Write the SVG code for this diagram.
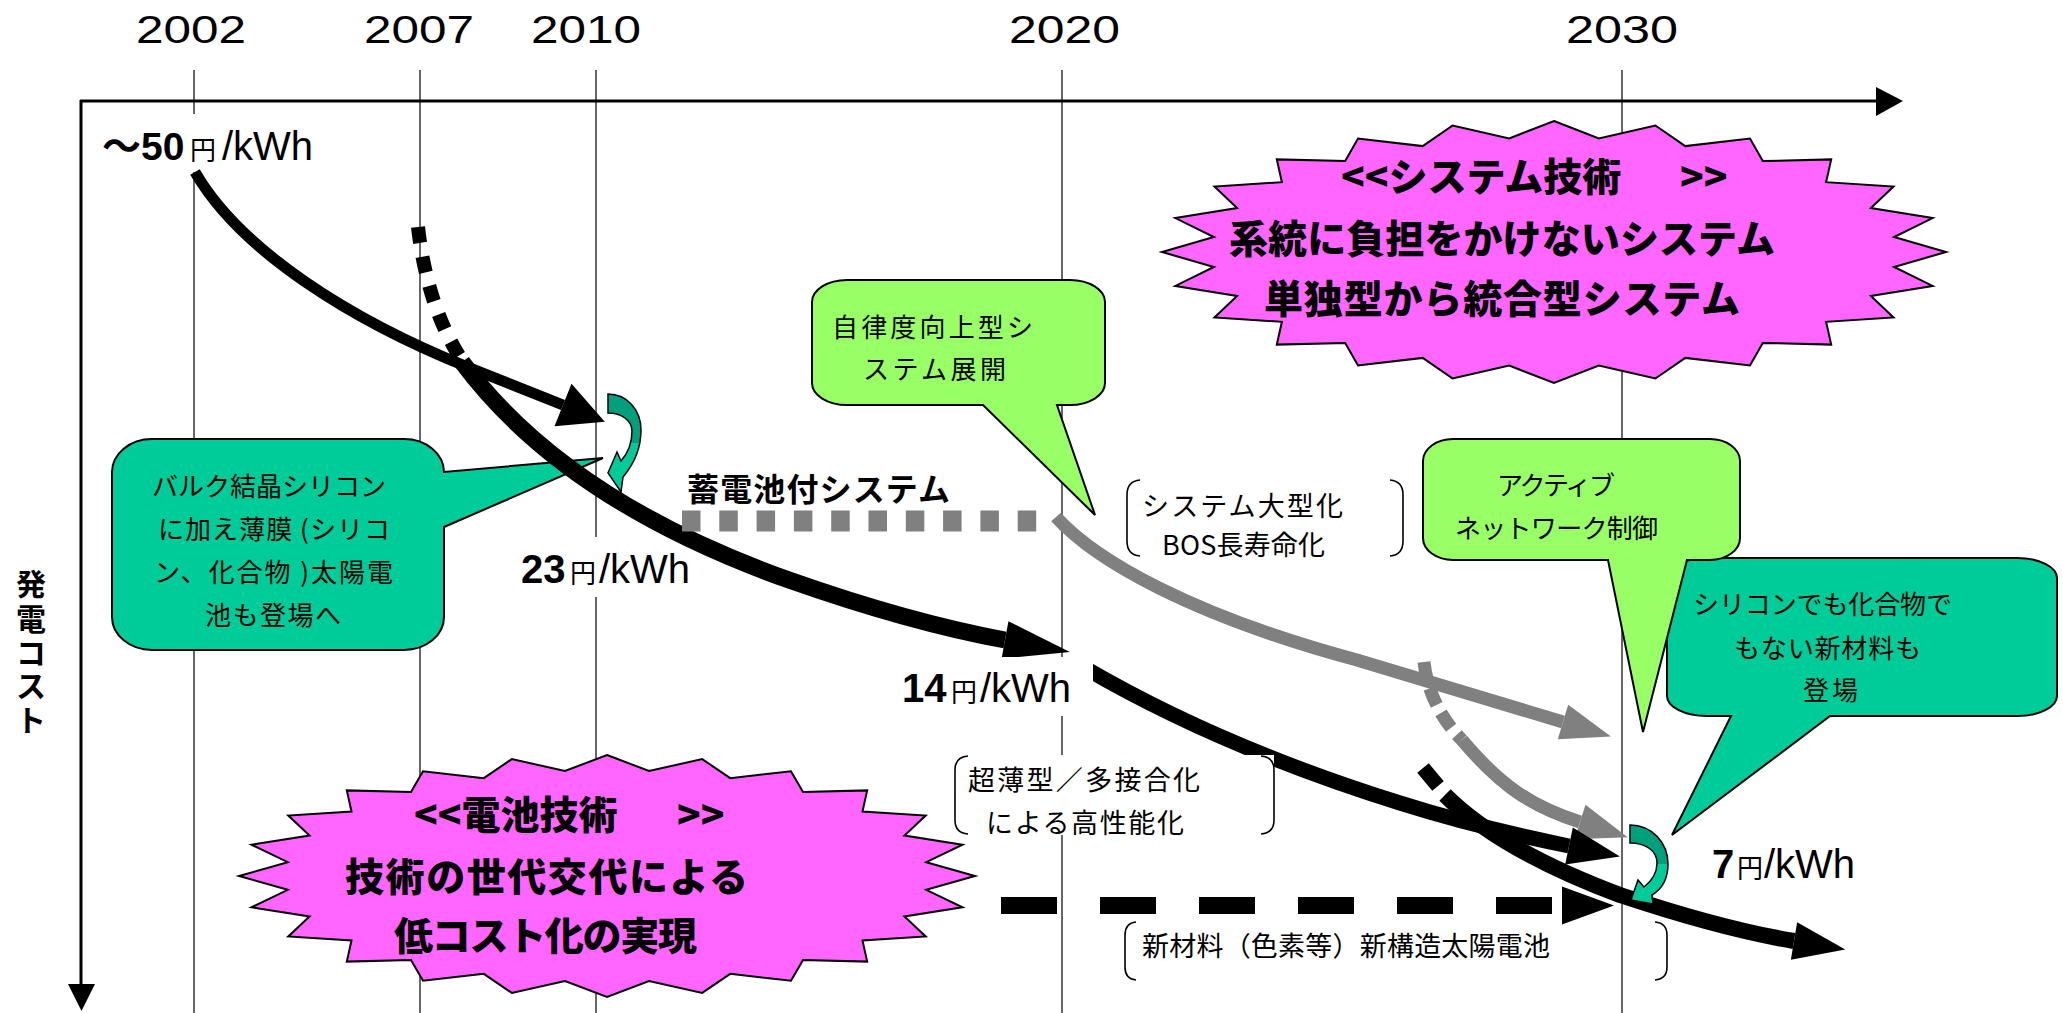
<svg xmlns="http://www.w3.org/2000/svg" width="2063" height="1013" viewBox="0 0 2063 1013">
<style>
.grid{stroke:#000;stroke-width:1.2;fill:none}
.axis{stroke:#000;stroke-width:3;fill:none}
.yr{font-family:"Liberation Sans",Arial,sans-serif;font-size:39px;fill:#000}
.lbl{font-family:"Liberation Sans",Arial,"Noto Sans CJK JP",sans-serif;fill:#000}
.bt{font-family:"Noto Sans CJK JP",sans-serif;font-size:26px;fill:#000}
.br{font-family:"Noto Sans CJK JP",sans-serif;font-size:27px;fill:#000}
.hv{font-family:"Noto Sans CJK JP",sans-serif;font-weight:900;font-size:39px;fill:#000}
.bub{stroke:#000;stroke-width:2}
.teal{fill:#00CC99}
.lime{fill:#99FF66}
.star{fill:#FF66FF;stroke:#000;stroke-width:2}
.brk{fill:none;stroke:#000;stroke-width:1.6}
.wbox{fill:#fff;stroke:none}
.blk{fill:none;stroke:#000}
.gry{fill:none;stroke:#808080}
.curl{fill:url(#curlg);stroke:#000;stroke-width:1.5}
</style>
<defs>
<linearGradient id="curlg" x1="0" y1="0" x2="0" y2="1">
<stop offset="0.5" stop-color="#00A07C"/>
<stop offset="0.5" stop-color="#00CC99"/>
</linearGradient>
<marker id="ahA" markerUnits="userSpaceOnUse" markerWidth="50" markerHeight="50" refX="0" refY="23" orient="auto" overflow="visible"><path d="M0,0 L45,23 L0,46 Z" fill="#000"/></marker>
<marker id="ahB" markerUnits="userSpaceOnUse" markerWidth="70" markerHeight="40" refX="0" refY="19" orient="auto" overflow="visible"><path d="M0,0 L66,19 L0,38 Z" fill="#000"/></marker>
<marker id="ahK" markerUnits="userSpaceOnUse" markerWidth="56" markerHeight="40" refX="0" refY="19" orient="auto" overflow="visible"><path d="M0,0 L52,19 L0,38 Z" fill="#000"/></marker>
<marker id="ahG" markerUnits="userSpaceOnUse" markerWidth="52" markerHeight="38" refX="0" refY="18" orient="auto" overflow="visible"><path d="M0,0 L50,18 L0,36 Z" fill="#808080"/></marker>
</defs>
<rect x="0" y="0" width="2063" height="1013" fill="#fff"/>

<g id="timeline">
<line class="grid" x1="194" y1="70" x2="194" y2="1013"/>
<line class="grid" x1="420" y1="70" x2="420" y2="1013"/>
<line class="grid" x1="596" y1="70" x2="596" y2="1013"/>
<line class="grid" x1="1062" y1="70" x2="1062" y2="1013"/>
<line class="grid" x1="1622" y1="70" x2="1622" y2="1013"/>
<text class="yr" x="136" y="43" textLength="110" lengthAdjust="spacingAndGlyphs">2002</text>
<text class="yr" x="364" y="43" textLength="110" lengthAdjust="spacingAndGlyphs">2007</text>
<text class="yr" x="531" y="43" textLength="110" lengthAdjust="spacingAndGlyphs">2010</text>
<text class="yr" x="1009" y="43" textLength="111" lengthAdjust="spacingAndGlyphs">2020</text>
<text class="yr" x="1566" y="43" textLength="112" lengthAdjust="spacingAndGlyphs">2030</text>
</g>

<g id="axes">
<line class="axis" x1="80" y1="101" x2="1878" y2="101"/>
<polygon points="1876,87 1903,101 1876,116" fill="#000"/>
<line class="axis" x1="81" y1="100" x2="81" y2="986"/>
<polygon points="68,984 95,984 81.5,1011" fill="#000"/>
<text class="lbl" font-weight="bold" font-size="30" text-anchor="middle"><tspan x="31" y="595">発</tspan><tspan x="31" y="630">電</tspan><tspan x="31" y="664">コ</tspan><tspan x="31" y="697">ス</tspan><tspan x="31" y="731">ト</tspan></text>
</g>

<g id="label-bg">
<rect class="wbox" x="100" y="114" width="225" height="58"/>
<rect class="wbox" x="518" y="537" width="182" height="60"/>
</g>

<g id="star-system">
<polygon class="star" points="1554,121 1598.8,138.4 1655.4,125.5 1685.3,146.1 1750,138.6 1762.8,161.1 1831.2,159.4 1826.1,182.2 1893.5,186.5 1870.9,208.1 1932.6,218.1 1894.1,237 1946,252 1894.1,267 1932.6,285.9 1870.9,295.9 1893.5,317.5 1826.1,321.8 1831.2,344.6 1762.8,342.9 1750,365.4 1685.3,357.9 1655.4,378.5 1598.8,365.6 1554,383 1509.2,365.6 1452.6,378.5 1422.7,357.9 1358,365.4 1345.2,342.9 1276.8,344.6 1281.9,321.8 1214.5,317.5 1237.1,295.9 1175.4,285.9 1213.9,267 1162,252 1213.9,237 1175.4,218.1 1237.1,208.1 1214.5,186.5 1281.9,182.2 1276.8,159.4 1345.2,161.1 1358,138.6 1422.7,146.1 1452.6,125.5 1509.2,138.4"/>
<text class="hv"><tspan x="1341" y="191">&lt;&lt;システム技術</tspan><tspan x="1680" y="191">&gt;&gt;</tspan></text>
<text class="hv" x="1229" y="253" textLength="546">系統に負担をかけないシステム</text>
<text class="hv" x="1264" y="313" textLength="476">単独型から統合型システム</text>
</g>

<g id="star-cell">
<polygon class="star" points="607,755 649,771 702.2,759.1 730.2,778.2 791,771.2 803,792 867.2,790.4 862.5,811.5 925.7,815.5 904.5,835.5 962.5,844.7 926.2,862.2 975,876 926.2,889.8 962.5,907.3 904.5,916.5 925.7,936.5 862.5,940.5 867.2,961.6 803,960 791,980.8 730.2,973.8 702.2,992.9 649,981 607,997 565,981 511.8,992.9 483.8,973.8 423,980.8 411,960 346.8,961.6 351.5,940.5 288.3,936.5 309.5,916.5 251.5,907.3 287.8,889.8 239,876 287.8,862.2 251.5,844.7 309.5,835.5 288.3,815.5 351.5,811.5 346.8,790.4 411,792 423,771.2 483.8,778.2 511.8,759.1 565,771"/>
<text class="hv" font-size="40"><tspan x="414" y="829">&lt;&lt;電池技術</tspan><tspan x="677" y="829">&gt;&gt;</tspan></text>
<text class="hv" font-size="40" x="345" y="891" textLength="403">技術の世代交代による</text>
<text class="hv" x="394" y="950" textLength="303">低コスト化の実現</text>
</g>

<g id="callout-bulk">
<path class="bub teal" d="M152,439 H404 A40,33 0 0 1 444,472 L603,458 L444,527 V617 A40,33 0 0 1 404,650 H152 A40,33 0 0 1 112,617 V472 A40,33 0 0 1 152,439 Z"/>
<text class="bt" x="152" y="496" textLength="234">バルク結晶シリコン</text>
<text class="bt" x="158" y="539" textLength="232">に加え薄膜 (シリコ</text>
<text class="bt" x="154" y="582" textLength="239">ン、化合物 )太陽電</text>
<text class="bt" x="205" y="625" textLength="136">池も登場へ</text>
</g>

<g id="callout-autonomy">
<path class="bub lime" d="M847,280 H1070 A35,22 0 0 1 1105,302 V383 A35,22 0 0 1 1070,405 H1057 L1095,515 L983,405 H847 A35,22 0 0 1 812,383 V302 A35,22 0 0 1 847,280 Z"/>
<text class="bt" x="832" y="337" textLength="201">自律度向上型シ</text>
<text class="bt" x="863" y="379" textLength="143">ステム展開</text>
</g>

<g id="callout-newmaterial">
<path class="bub teal" d="M1707,558 H2017 A40,20 0 0 1 2057,578 V696 A40,20 0 0 1 2017,716 H1830 L1672,835 L1731,716 H1707 A40,20 0 0 1 1667,696 V578 A40,20 0 0 1 1707,558 Z"/>
<text class="bt" x="1693" y="614" textLength="259">シリコンでも化合物で</text>
<text class="bt" x="1734" y="658" textLength="187">もない新材料も</text>
<text class="bt" x="1803" y="700" textLength="55">登場</text>
</g>

<g id="callout-active">
<path class="bub lime" d="M1453,439 H1710 A30,22 0 0 1 1740,461 V538 A30,22 0 0 1 1710,560 H1687 L1643,732 L1608,560 H1453 A30,22 0 0 1 1423,538 V461 A30,22 0 0 1 1453,439 Z"/>
<text class="bt" x="1497" y="495" textLength="118">アクティブ</text>
<text class="bt" x="1455" y="538" textLength="203">ネットワーク制御</text>
</g>

<g id="connectors">
<path class="blk" stroke-width="11" d="M195,172 C240,250 350,320 470,368 L563,405" marker-end="url(#ahA)"/>
<path class="blk" stroke-width="14" stroke-dasharray="16 14" d="M418,227 C424,280 440,330 466,366"/>
<path class="blk" stroke-width="17" d="M462,362 C520,440 620,520 789,580 C860,605 940,628 1005,640" marker-end="url(#ahB)"/>
<path class="gry" stroke-width="21" stroke-dasharray="18.5 18.8" d="M682,521 L1037,521"/>
<path class="gry" stroke-width="13" d="M1056,517 C1095,560 1190,615 1357,660 L1563,722" marker-end="url(#ahG)"/>
<path class="gry" stroke-width="13" stroke-dasharray="18 9" d="M1424,662 C1427,690 1440,718 1462,740"/>
<path class="gry" stroke-width="13" d="M1462,740 C1500,785 1530,806 1580,822" marker-end="url(#ahG)"/>
<path class="blk" stroke-width="15" d="M1085,668 C1200,735 1320,778 1400,803 C1460,822 1520,836 1569,846" marker-end="url(#ahK)"/>
<path class="blk" stroke-width="15" d="M1423,768 L1438,786"/>
<path class="blk" stroke-width="16" d="M1445,795 C1480,830 1540,865 1620,895 C1680,915 1740,932 1794,941" marker-end="url(#ahK)"/>
<path class="blk" stroke-width="17" stroke-dasharray="56 43" d="M1001,905.5 L1562,905.5" marker-end="url(#ahK)"/>
</g>

<g id="label-14-bg">
<rect class="wbox" x="895" y="657" width="198" height="59"/>
</g>

<g id="note-system-scale">
<rect class="wbox" x="1126" y="478" width="277" height="80"/>
<path class="brk" d="M1140,480 Q1127,481 1127,495 V541 Q1127,555 1140,556"/>
<path class="brk" d="M1390,480 Q1403,481 1403,495 V541 Q1403,555 1390,556"/>
<text class="br" x="1142" y="516" textLength="201">システム大型化</text>
<text class="br" x="1162" y="555" textLength="163">BOS長寿命化</text>
</g>

<g id="note-thin">
<rect class="wbox" x="954" y="755" width="320" height="80"/>
<path class="brk" d="M968,756 Q955,757 955,770 V820 Q955,833 968,834"/>
<path class="brk" d="M1261,756 Q1274,757 1274,770 V820 Q1274,833 1261,834"/>
<text class="br" x="968" y="790" textLength="232">超薄型／多接合化</text>
<text class="br" x="986" y="833" textLength="198">による高性能化</text>
</g>

<g id="note-newstructure">
<path class="brk" d="M1136,922 Q1125,923 1125,935 V967 Q1125,979 1136,980"/>
<path class="brk" d="M1655,922 Q1667,923 1667,935 V967 Q1667,979 1655,980"/>
<text class="br" x="1142" y="956" textLength="408">新材料（色素等）新構造太陽電池</text>
</g>

<g id="curl-2010">
<path class="curl" d="M608,394 C627,394 641,410 641,430 C641,449 634,464 623,477 L621,492 L608,473 L617,452 L621,461 C629,452 632,442 632,431 C632,421 622,413 608,413 Z"/>
</g>
<g id="curl-2030">
<path class="curl" d="M1630,825 C1652,825 1668,843 1668,864 C1668,878 1662,889 1652,895 L1653,904 L1631,900 L1638,880 L1644,887 C1653,880 1657,872 1657,863 C1657,851 1646,843 1630,843 Z"/>
</g>

<g id="label-50">
<text class="lbl" y="160"><tspan x="102" font-weight="bold" font-size="39">～50</tspan><tspan x="190" font-size="26">円</tspan><tspan x="222" font-size="40">/kWh</tspan></text>
</g>
<g id="label-23">
<text class="lbl" y="583"><tspan x="521" font-weight="bold" font-size="40">23</tspan><tspan x="570" font-size="26">円</tspan><tspan x="599" font-size="40">/kWh</tspan></text>
</g>
<g id="label-14">
<text class="lbl" y="702"><tspan x="902" font-weight="bold" font-size="40">14</tspan><tspan x="951" font-size="26">円</tspan><tspan x="980" font-size="40">/kWh</tspan></text>
</g>
<g id="label-7">
<text class="lbl" y="878"><tspan x="1712" font-weight="bold" font-size="40">7</tspan><tspan x="1737" font-size="26">円</tspan><tspan x="1764" font-size="40">/kWh</tspan></text>
</g>
<g id="label-storage">
<text class="lbl" font-family="Noto Sans CJK JP" font-weight="bold" font-size="32" x="687" y="501" textLength="263">蓄電池付システム</text>
</g>
</svg>
